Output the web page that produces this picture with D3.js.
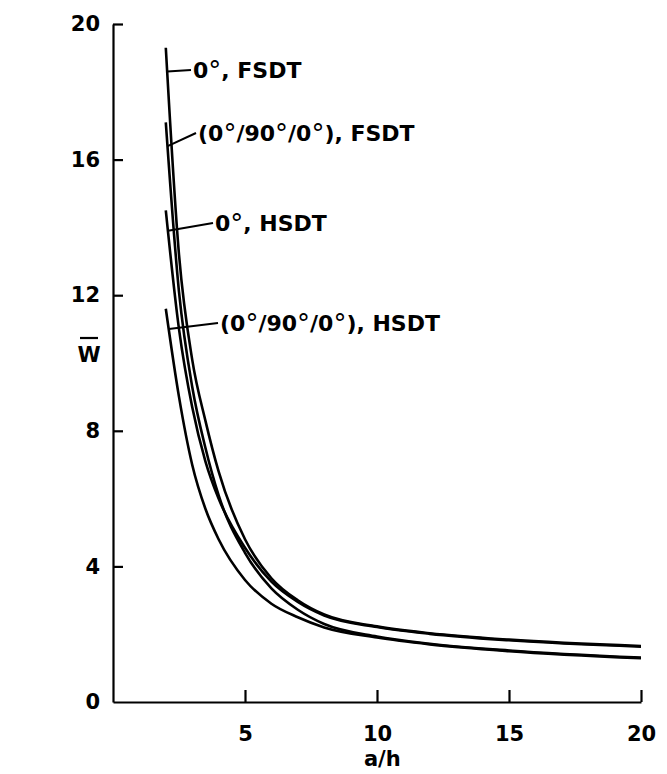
<!DOCTYPE html>
<html>
<head>
<meta charset="utf-8">
<script src="https://cdn.jsdelivr.net/npm/d3@7"></script>
<style>
  body { margin: 0; background: #fff; }
  text { font-family: "DejaVu Sans", sans-serif; fill: #000; }
</style>
</head>
<body>
<div id="chart"></div>
<script>
// Data
const aOverH = [2, 2.5, 3, 3.5, 4, 5, 6, 7, 8, 10, 12, 15, 20];
const w0FSDT = [19.3, 13.2, 10.1, 8.3, 6.8, 4.8, 3.65, 3.0, 2.58, 2.23, 2.03, 1.84, 1.65];
const wLamFSDT = [17.1, 12.1, 9.3, 7.5, 6.1, 4.4, 3.35, 2.72, 2.3, 1.93, 1.72, 1.52, 1.31];
const w0HSDT = [14.5, 11.0, 8.7, 7.1, 6.0, 4.55, 3.55, 2.95, 2.55, 2.21, 2.01, 1.82, 1.63];
const wLamHSDT = [11.6, 9.0, 7.0, 5.7, 4.8, 3.6, 2.9, 2.5, 2.2, 1.9, 1.7, 1.5, 1.29];
const xTicks = [5, 10, 15, 20];
const yTicks = [0, 4, 8, 12, 16, 20];

const series = [
  { name: "0°, FSDT", parts: ["0", "°", ", FSDT"], values: w0FSDT, at: 18.6, lx: 193, ly: 70 },
  { name: "(0°/90°/0°), FSDT", parts: ["(0", "°", "/90", "°", "/0", "°", "), FSDT"], values: wLamFSDT, at: 16.4, lx: 198, ly: 133 },
  { name: "0°, HSDT", parts: ["0", "°", ", HSDT"], values: w0HSDT, at: 13.9, lx: 215, ly: 223 },
  { name: "(0°/90°/0°), HSDT", parts: ["(0", "°", "/90", "°", "/0", "°", "), HSDT"], values: wLamHSDT, at: 11.0, lx: 220, ly: 323 }
];

const width = 667, height = 774;
const svg = d3.select("#chart").append("svg")
  .attr("width", width)
  .attr("height", height);

const x = d3.scaleLinear().domain([0, 20]).range([113, 641]);
const y = d3.scaleLinear().domain([0, 20]).range([702, 24]);

// Axes, ticks pointing inward
const yAxis = svg.append("g")
  .attr("transform", `translate(${x(0)},0)`)
  .call(d3.axisLeft(y).tickValues(yTicks).tickSizeInner(-10).tickSizeOuter(0).tickPadding(13)
    .tickFormat(d3.format("d")));
yAxis.selectAll(".tick line").filter(d => d === 0).remove();

const xAxis = svg.append("g")
  .attr("transform", `translate(0,${y(0)})`)
  .call(d3.axisBottom(x).tickValues(xTicks).tickSizeInner(-12).tickSizeOuter(0).tickPadding(24)
    .tickFormat(d3.format("d")));

[yAxis, xAxis].forEach(g => {
  g.select(".domain").attr("stroke", "#000").attr("stroke-width", 2.2);
  g.selectAll(".tick line").attr("stroke", "#000").attr("stroke-width", 2.2);
  g.selectAll(".tick text")
    .style("font-size", "21px").style("font-family", "DejaVu Sans").style("font-weight", "bold")
    .attr("fill", "#000");
});

// Axis titles
svg.append("text")
  .attr("x", x(10.2)).attr("y", 766)
  .attr("text-anchor", "middle")
  .style("font-size", "21px").style("font-weight", "bold")
  .text("a/h");

svg.append("text")
  .attr("x", 89).attr("y", 362)
  .attr("text-anchor", "middle")
  .style("font-size", "21px").style("font-weight", "bold")
  .text("W");
svg.append("line")
  .attr("x1", 80).attr("x2", 98)
  .attr("y1", 338).attr("y2", 338)
  .attr("stroke", "#000").attr("stroke-width", 2.2);

// Curves
const line = d3.line()
  .x((d, i) => x(aOverH[i]))
  .y(d => y(d))
  .curve(d3.curveMonotoneX);

svg.selectAll(".curve")
  .data(series)
  .enter().append("path")
  .attr("class", "curve")
  .attr("fill", "none")
  .attr("stroke", "#000")
  .attr("stroke-width", 2.6)
  .attr("d", d => line(d.values));

// Labels with leader lines
function xAtValue(s) {
  // a/h where the curve reaches the labelled value (curves fall monotonically)
  const v = s.values;
  for (let i = 0; i < v.length - 1; i++) {
    if (v[i] >= s.at && v[i + 1] <= s.at) {
      const t = (v[i] - s.at) / (v[i] - v[i + 1]);
      return aOverH[i] + t * (aOverH[i + 1] - aOverH[i]);
    }
  }
  return aOverH[0];
}

const labels = svg.selectAll(".label")
  .data(series)
  .enter().append("g")
  .attr("class", "label");

labels.append("line")
  .attr("x1", d => x(xAtValue(d)))
  .attr("y1", d => y(d.at))
  .attr("x2", d => d.lx - 2)
  .attr("y2", d => d.ly)
  .attr("stroke", "#000")
  .attr("stroke-width", 2);

const lt = labels.append("text")
  .attr("x", d => d.lx)
  .attr("y", d => d.ly + 8)
  .style("font-size", "22px")
  .style("font-weight", "bold");

lt.selectAll("tspan")
  .data(d => d.parts)
  .enter().append("tspan")
  .style("font-size", p => p === "°" ? "26px" : "22px")
  .style("font-weight", p => p === "°" ? "normal" : "bold")
  .attr("dy", (p, i, nodes) => p === "°" ? 2 : (i > 0 && d3.select(nodes[i - 1]).datum() === "°" ? -2 : 0))
  .text(p => p);
</script>
</body>
</html>
